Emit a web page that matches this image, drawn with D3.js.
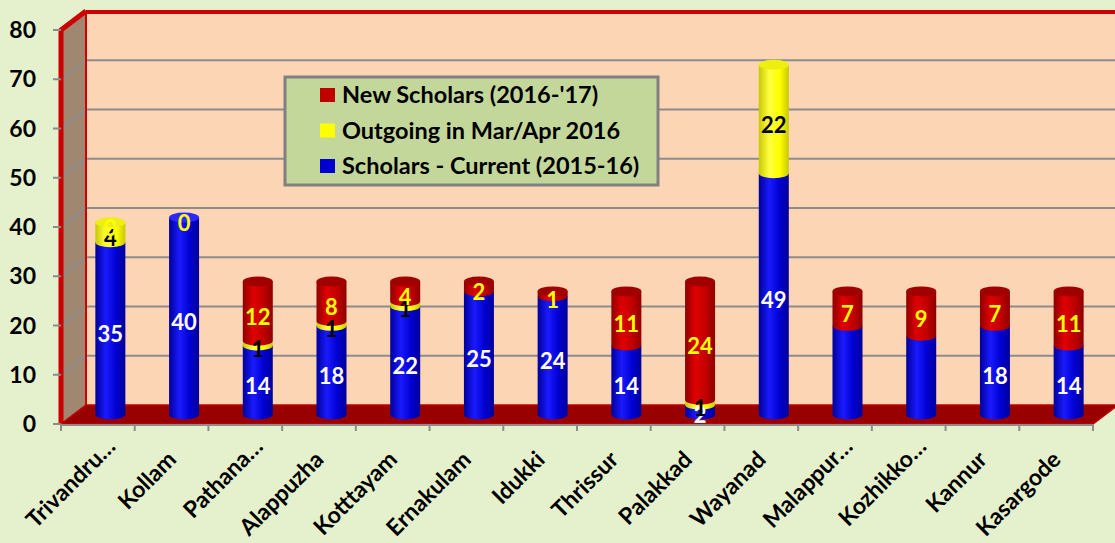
<!DOCTYPE html>
<html>
<head>
<meta charset="utf-8">
<script src="https://cdn.jsdelivr.net/npm/d3@7"></script>
<style>
  body { margin: 0; background: #e5f0cc; }
  text { font-family: Lato, "Open Sans", sans-serif; font-weight: bold; }
</style>
</head>
<body>
<div id="chart"></div>
<script>
// data
var districts = ["Trivandru…", "Kollam", "Pathana…", "Alappuzha", "Kotttayam", "Ernakulam", "Idukki",
  "Thrissur", "Palakkad", "Wayanad", "Malappur…", "Kozhikko…", "Kannur", "Kasargode"];
var current = [35, 40, 14, 18, 22, 25, 24, 14, 2, 49, 18, 16, 18, 14];
var outgoing = [4, null, 1, 1, 1, null, null, null, 1, 22, null, null, null, null];
var newScholars = [0, 0, 12, 8, 4, 2, 1, 11, 24, null, 7, 9, 7, 11];
// the current value labels that the original chart leaves out
var unlabelled = ["Malappur…", "Kozhikko…"];
var yTicks = [0, 10, 20, 30, 40, 50, 60, 70, 80];

var series = [
  { name: "New Scholars (2016-'17)", key: "new", values: newScholars, light: "#e00000", mid: "#c00000", dark: "#8e0000", top: "#a00000", label: "#ffff00" },
  { name: "Outgoing in Mar/Apr 2016", key: "out", values: outgoing, light: "#ffff40", mid: "#ffff00", dark: "#c8c800", top: "#eeee10", label: "#000000" },
  { name: "Scholars - Current (2015-16)", key: "cur", values: current, light: "#1a1aff", mid: "#0000d0", dark: "#00009a", top: "#2a2aff", label: "#ffffff" }
];
var stackOrder = ["cur", "out", "new"];

var svg_dx = 1115,
  svg_dy = 543,
  front = { left: 61, right: 1093, top: 30, bottom: 424 },
  depth = { dx: 25, dy: -19 },
  barW = 30,
  ry = 5;

var x = d3.scaleBand().domain(districts).range([front.left, front.right]);
var y = d3.scaleLinear().domain([0, 80]).range([front.bottom, front.top]);

var svg = d3.select("#chart")
  .append("svg")
  .attr("width", svg_dx)
  .attr("height", svg_dy);

var defs = svg.append("defs");
series.forEach(function(s) {
  var g = defs.append("linearGradient").attr("id", "grad-" + s.key)
    .attr("x1", "0%").attr("x2", "100%").attr("y1", "0%").attr("y2", "0%");
  g.append("stop").attr("offset", "0%").attr("stop-color", s.dark);
  g.append("stop").attr("offset", "35%").attr("stop-color", s.light);
  g.append("stop").attr("offset", "70%").attr("stop-color", s.mid);
  g.append("stop").attr("offset", "100%").attr("stop-color", s.dark);
});

// walls and floor
var backLeft = front.left + depth.dx,
  backTop = front.top + depth.dy,
  backBottom = front.bottom + depth.dy;

svg.append("rect")
  .attr("x", backLeft).attr("y", backTop)
  .attr("width", svg_dx - backLeft + 10).attr("height", backBottom - backTop)
  .attr("fill", "#fcd5b5");

svg.append("polygon")
  .attr("points", [[front.left, front.top], [backLeft, backTop], [backLeft, backBottom], [front.left, front.bottom]].join(" "))
  .attr("fill", "#a08770");

// gridlines on back wall and left wall
var grid = svg.append("g").attr("class", "grid");
yTicks.filter(function(t) { return t > 0 && t < 80; }).forEach(function(t) {
  grid.append("line")
    .attr("x1", backLeft).attr("x2", svg_dx)
    .attr("y1", y(t) + depth.dy).attr("y2", y(t) + depth.dy)
    .attr("stroke", "#8c8c8c").attr("stroke-width", 2);
  grid.append("line")
    .attr("x1", front.left).attr("x2", backLeft)
    .attr("y1", y(t)).attr("y2", y(t) + depth.dy)
    .attr("stroke", "#8c8c8c").attr("stroke-width", 2);
});

// red borders of the walls
svg.append("line")
  .attr("x1", backLeft).attr("x2", svg_dx)
  .attr("y1", backTop + 1).attr("y2", backTop + 1)
  .attr("stroke", "#cc0000").attr("stroke-width", 4);
svg.append("line")
  .attr("x1", backLeft).attr("x2", backLeft)
  .attr("y1", backTop).attr("y2", backBottom)
  .attr("stroke", "#cc0000").attr("stroke-width", 2);
svg.append("polyline")
  .attr("points", [[front.left, front.bottom], [front.left, front.top], [backLeft, backTop]].join(" "))
  .attr("fill", "none")
  .attr("stroke", "#cc0000").attr("stroke-width", 5)
  .attr("stroke-linejoin", "round");

// floor
svg.append("polygon")
  .attr("points", [[front.left, front.bottom], [front.right, front.bottom],
    [front.right + depth.dx, backBottom], [backLeft, backBottom]].join(" "))
  .attr("fill", "#990000")
  .attr("stroke", "#c00000").attr("stroke-width", 1.5);

// axes
var yAxis = svg.append("g").attr("class", "axis axis--y");
yTicks.forEach(function(t) {
  yAxis.append("line")
    .attr("x1", front.left - 8).attr("x2", front.left)
    .attr("y1", y(t)).attr("y2", y(t))
    .attr("stroke", "#8c8c8c").attr("stroke-width", 2);
  yAxis.append("text")
    .attr("x", 36).attr("y", y(t))
    .attr("dy", "0.35em")
    .attr("text-anchor", "end")
    .attr("font-size", 23)
    .text(t);
});

var xAxis = svg.append("g").attr("class", "axis axis--x");
xAxis.append("line")
  .attr("x1", front.left).attr("x2", front.right)
  .attr("y1", front.bottom + 1).attr("y2", front.bottom + 1)
  .attr("stroke", "#8c8c8c").attr("stroke-width", 2);
districts.concat([null]).forEach(function(d, i) {
  var tx = front.left + i * x.step();
  xAxis.append("line")
    .attr("x1", tx).attr("x2", tx)
    .attr("y1", front.bottom).attr("y2", front.bottom + 7)
    .attr("stroke", "#8c8c8c").attr("stroke-width", 2);
});
// truncated names sit a little further up along their slope
xAxis.selectAll("text.cat")
  .data(districts)
  .enter()
  .append("text")
  .attr("class", "cat")
  .attr("text-anchor", "end")
  .attr("font-size", 23)
  .attr("transform", function(d) {
    var shift = d.slice(-1) === "…" ? 13 : 0;
    return "translate(" + (x(d) + x.bandwidth() / 2 + 6 + shift) + "," + (front.bottom + 37 - shift) + ") rotate(-45)";
  })
  .text(function(d) { return d; });

// cylinders
var bars = svg.append("g").attr("class", "bars");
var labels = [];
districts.forEach(function(d, i) {
  var cx = x(d) + x.bandwidth() / 2 + depth.dx / 2,
    off = depth.dy / 2,
    left = cx - barW / 2,
    right = cx + barW / 2,
    base = 0,
    topSeries = null;
  stackOrder.forEach(function(key) {
    var s = series.find(function(q) { return q.key === key; });
    var v = s.values[i];
    if (v === null) return;
    var y0 = y(base) + off,
      y1 = y(base + v) + off;
    if (v > 0) {
      bars.append("path")
        .attr("d", "M" + left + "," + y1 + "L" + left + "," + y0 +
          "A" + (barW / 2) + "," + ry + " 0 0 0 " + right + "," + y0 +
          "L" + right + "," + y1 + "Z")
        .attr("fill", "url(#grad-" + key + ")");
      topSeries = s;
    }
    if (!(key === "cur" && unlabelled.indexOf(d) >= 0)) {
      labels.push({ x: cx, y: (y0 + y1) / 2 + 6, text: v, color: s.label });
    }
    base += v;
  });
  bars.append("ellipse")
    .attr("cx", cx).attr("cy", y(base) + off)
    .attr("rx", barW / 2).attr("ry", ry)
    .attr("fill", topSeries.top);
});

svg.append("g").attr("class", "labels")
  .selectAll("text")
  .data(labels)
  .enter()
  .append("text")
  .attr("x", function(d) { return d.x; })
  .attr("y", function(d) { return d.y; })
  .attr("dy", "0.35em")
  .attr("text-anchor", "middle")
  .attr("font-size", 22)
  .attr("fill", function(d) { return d.color; })
  .text(function(d) { return d.text; });

// legend
var legend = svg.append("g").attr("class", "legend");
legend.append("rect")
  .attr("x", 285).attr("y", 77)
  .attr("width", 373).attr("height", 108)
  .attr("fill", "#c4d79b")
  .attr("stroke", "#808080").attr("stroke-width", 3);
series.forEach(function(s, i) {
  var ly = 95 + i * 35.5;
  legend.append("rect")
    .attr("x", 320).attr("y", ly - 7)
    .attr("width", 15).attr("height", 14)
    .attr("fill", s.mid);
  legend.append("text")
    .attr("x", 342).attr("y", ly)
    .attr("dy", "0.35em")
    .attr("font-size", 23.5)
    .text(s.name);
});
</script>
</body>
</html>
